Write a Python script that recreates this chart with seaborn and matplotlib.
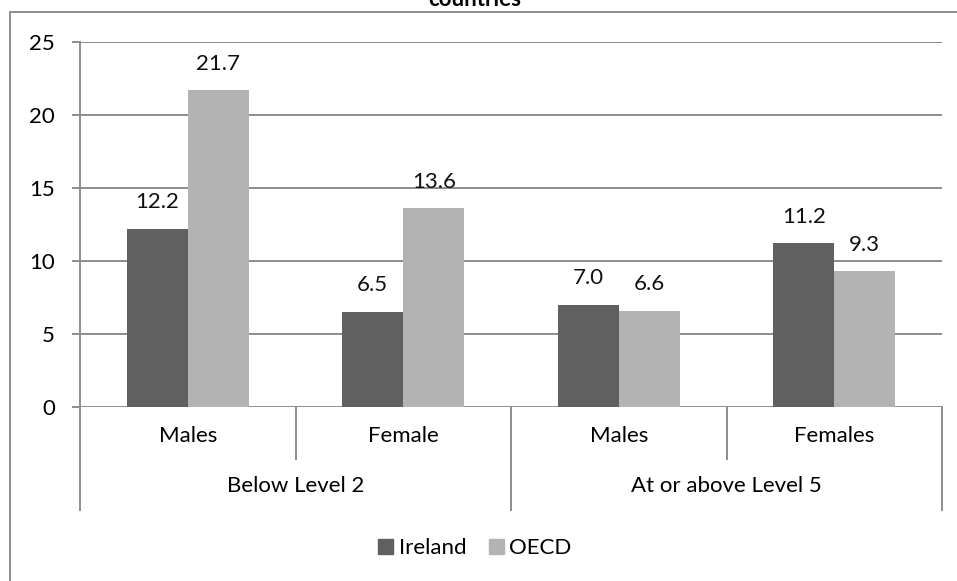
import seaborn as sns
import matplotlib.pyplot as plt
import matplotlib.patches as mpatches
import pandas as pd

groups = ["Below Level 2", "Below Level 2", "At or above Level 5", "At or above Level 5"]
subcats = ["Males", "Female", "Males", "Females"]
ireland = [12.2, 6.5, 7.0, 11.2]
oecd = [21.7, 13.6, 6.6, 9.3]
series = ["Ireland", "OECD"]
title = "countries"

keys = [f"{g}|{s}" for g, s in zip(groups, subcats)]
df = pd.DataFrame({
    "key": keys * 2,
    "series": [series[0]] * 4 + [series[1]] * 4,
    "value": ireland + oecd,
})

grey = "#8c8c8c"
fs = 16
plt.rcParams["font.family"] = ["Lato", "DejaVu Sans"]

fig = plt.figure(figsize=(9.57, 5.81), dpi=100)
W, H = 957, 581
ax = fig.add_axes([80 / W, 1 - 407 / H, 862 / W, 365 / H])

sns.barplot(data=df, x="key", y="value", hue="series", order=keys,
            hue_order=series, palette=["#606060", "#b3b3b3"],
            width=0.566, edgecolor="none", saturation=1, legend=False, ax=ax)

for c in ax.containers:
    ax.bar_label(c, fmt="%.1f", padding=12, fontsize=fs, color="#111111")

ax.set_ylim(0, 25)
ax.set_xlim(-0.5, 3.5)
ax.set_yticks(range(0, 26, 5))
ax.yaxis.grid(True, color=grey, lw=1.4)
ax.set_axisbelow(True)
for s in ["top", "right", "bottom"]:
    ax.spines[s].set_visible(False)
ax.spines["left"].set_color(grey)
ax.spines["left"].set_linewidth(1.4)
ax.tick_params(axis="y", length=6, width=1.4, color=grey, labelsize=fs, pad=12)
ax.tick_params(axis="x", length=0, labelsize=fs, pad=14)
ax.set_xticks(range(4))
ax.set_xticklabels(subcats)
ax.set_xlabel("")
ax.set_ylabel("")

# category dividers below the axis
tr = ax.get_xaxis_transform()
for x in [0.5, 2.5]:
    ax.plot([x, x], [0, -52 / 365], color=grey, lw=1.4, transform=tr, clip_on=False)
for x in [-0.5, 1.5, 3.5]:
    ax.plot([x, x], [0, -103 / 365], color=grey, lw=1.4, transform=tr, clip_on=False)
for x, g in [(0.5, groups[0]), (2.5, groups[2])]:
    ax.text(x, -79 / 365, g, transform=tr, ha="center", va="center", fontsize=fs)

handles = [mpatches.Patch(color=c, label=l) for c, l in zip(["#606060", "#b3b3b3"], series)]
fig.legend(handles=handles, loc="center", bbox_to_anchor=(475 / W, 1 - 548 / H),
           ncol=2, frameon=False, fontsize=fs, handlelength=0.68, handleheight=0.68,
           handletextpad=0.25, columnspacing=1.0)

# outer chart border (cropped)
fig.add_artist(mpatches.Rectangle((10 / W, -0.1), 1.2, 1 - 12 / H + 0.1,
                                  transform=fig.transFigure, fill=False,
                                  edgecolor=grey, lw=1.4))
fig.text(475 / W, 1 - 6 / H, title, ha="center", va="baseline",
         fontsize=fs, fontweight="bold")

fig.savefig("out.png", dpi=100)
